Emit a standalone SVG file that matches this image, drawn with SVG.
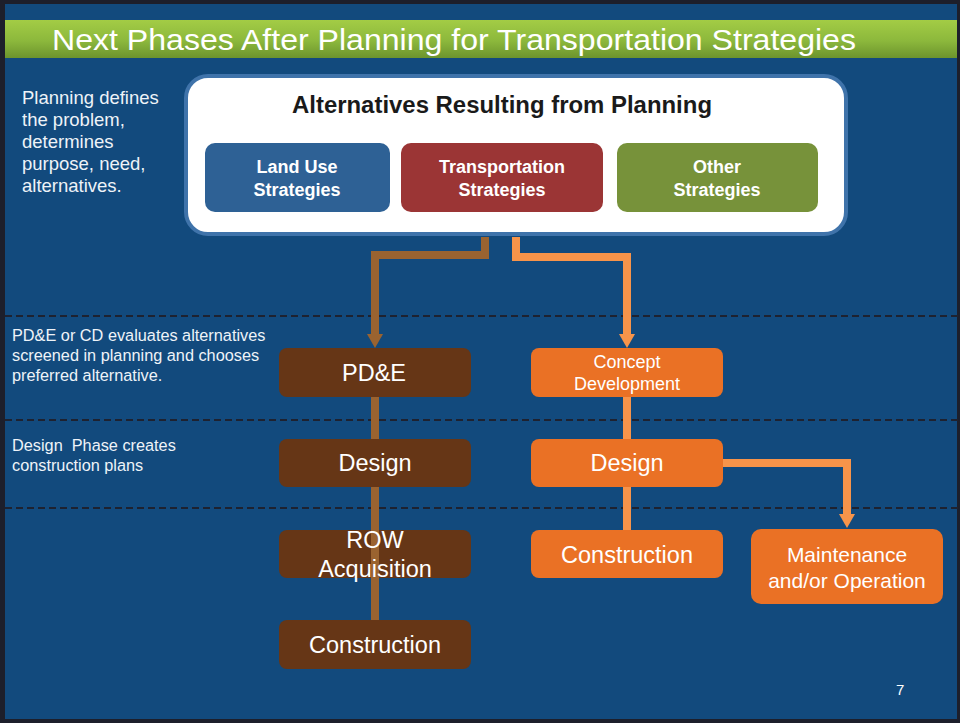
<svg xmlns="http://www.w3.org/2000/svg" width="960" height="723" viewBox="0 0 960 723">
<defs>
<linearGradient id="gbar" x1="0" y1="0" x2="0" y2="1">
<stop offset="0" stop-color="#a3cc45"/>
<stop offset="0.55" stop-color="#8cb83c"/>
<stop offset="1" stop-color="#6c942d"/>
</linearGradient>
<marker id="ab" markerWidth="16" markerHeight="14" refX="8" refY="0" orient="0" markerUnits="userSpaceOnUse" viewBox="0 0 16 14">
<path d="M0,0 L16,0 L8,14 Z" fill="#9a6330"/>
</marker>
<marker id="ao" markerWidth="16" markerHeight="14" refX="8" refY="0" orient="0" markerUnits="userSpaceOnUse" viewBox="0 0 16 14">
<path d="M0,0 L16,0 L8,14 Z" fill="#f7944a"/>
</marker>
</defs>
<style>
text{font-family:"Liberation Sans",Arial,sans-serif;fill:#ffffff}
.note{font-size:18.5px;fill:#eef3f8}
.note2{font-size:16.3px;fill:#eef3f8}
.strat{font-size:18px;font-weight:bold;text-anchor:middle}
.ph{font-size:23.5px;text-anchor:middle}
.brown{fill:#663616}
.orange{fill:#ea7125}
.dash{stroke:#1e2230;stroke-width:2;stroke-dasharray:7 4}
.cb{fill:none;stroke:#9a6330;stroke-width:8}
.co{fill:none;stroke:#f7944a;stroke-width:8}
</style>
<rect x="0" y="0" width="960" height="723" fill="#1d1f2b"/>
<rect x="5" y="4" width="952" height="715" fill="#124a7d"/>
<rect x="5" y="20" width="952" height="38" fill="url(#gbar)"/>
<text x="52" y="50" font-size="30" textLength="804" lengthAdjust="spacingAndGlyphs">Next Phases After Planning for Transportation Strategies</text>

<g id="dividers">
<line class="dash" x1="5" y1="316" x2="960" y2="316"/>
<line class="dash" x1="5" y1="420" x2="960" y2="420"/>
<line class="dash" x1="5" y1="508" x2="960" y2="508"/>
</g>

<g id="notes">
<text class="note" x="22" y="104">Planning defines</text>
<text class="note" x="22" y="126">the problem,</text>
<text class="note" x="22" y="148">determines</text>
<text class="note" x="22" y="170">purpose, need,</text>
<text class="note" x="22" y="192">alternatives.</text>
<text class="note2" x="12" y="341">PD&amp;E or CD evaluates alternatives</text>
<text class="note2" x="12" y="361">screened in planning and chooses</text>
<text class="note2" x="12" y="381">preferred alternative.</text>
<text class="note2" x="12" y="451" xml:space="preserve">Design  Phase creates</text>
<text class="note2" x="12" y="471">construction plans</text>
<text x="896" y="695" font-size="15">7</text>
</g>

<g id="alternatives">
<rect x="186" y="76" width="660" height="158" rx="22" fill="#ffffff" stroke="#3f73aa" stroke-width="4"/>
<text x="502" y="113" font-size="23" font-weight="bold" text-anchor="middle" style="fill:#1a1a1a" textLength="420" lengthAdjust="spacingAndGlyphs">Alternatives Resulting from Planning</text>
</g>
<g id="landuse">
<rect x="205" y="143" width="185" height="69" rx="10" fill="#2e6195"/>
<text class="strat" x="297" y="173">Land Use</text>
<text class="strat" x="297" y="196">Strategies</text>
</g>
<g id="transportation">
<rect x="401" y="143" width="202" height="69" rx="10" fill="#9b3535"/>
<text class="strat" x="502" y="173">Transportation</text>
<text class="strat" x="502" y="196">Strategies</text>
</g>
<g id="other">
<rect x="617" y="143" width="201" height="69" rx="10" fill="#77923a"/>
<text class="strat" x="717" y="173">Other</text>
<text class="strat" x="717" y="196">Strategies</text>
</g>

<g id="row">
<rect class="brown" x="279" y="530" width="192" height="48" rx="8"/>
</g>

<g id="connectors">
<path class="cb" d="M485,237 V255 H375 V334" marker-end="url(#ab)"/>
<path class="co" d="M516,237 V257 H627 V334" marker-end="url(#ao)"/>
<path class="cb" d="M375,397 V620"/>
<path class="co" d="M627,397 V530"/>
<path class="co" d="M723,463 H847 V514" marker-end="url(#ao)"/>
</g>

<g id="row-label">
<text class="ph" x="375" y="548">ROW</text>
<text class="ph" x="375" y="577">Acquisition</text>
</g>

<g id="pde">
<rect class="brown" x="279" y="348" width="192" height="49" rx="8"/>
<text class="ph" x="374" y="381">PD&amp;E</text>
</g>
<g id="design-b">
<rect class="brown" x="279" y="439" width="192" height="48" rx="8"/>
<text class="ph" x="375" y="471">Design</text>
</g>
<g id="construction-b">
<rect class="brown" x="279" y="620" width="192" height="49" rx="8"/>
<text class="ph" x="375" y="653">Construction</text>
</g>
<g id="concept">
<rect class="orange" x="531" y="348" width="192" height="49" rx="8"/>
<text x="627" y="368" font-size="18" text-anchor="middle">Concept</text>
<text x="627" y="390" font-size="18" text-anchor="middle">Development</text>
</g>
<g id="design-o">
<rect class="orange" x="531" y="439" width="192" height="48" rx="8"/>
<text class="ph" x="627" y="471">Design</text>
</g>
<g id="construction-o">
<rect class="orange" x="531" y="530" width="192" height="48" rx="8"/>
<text class="ph" x="627" y="563">Construction</text>
</g>
<g id="maintenance">
<rect class="orange" x="751" y="529" width="192" height="75" rx="10"/>
<text x="847" y="562" font-size="21" text-anchor="middle">Maintenance</text>
<text x="847" y="588" font-size="21" text-anchor="middle">and/or Operation</text>
</g>
</svg>
